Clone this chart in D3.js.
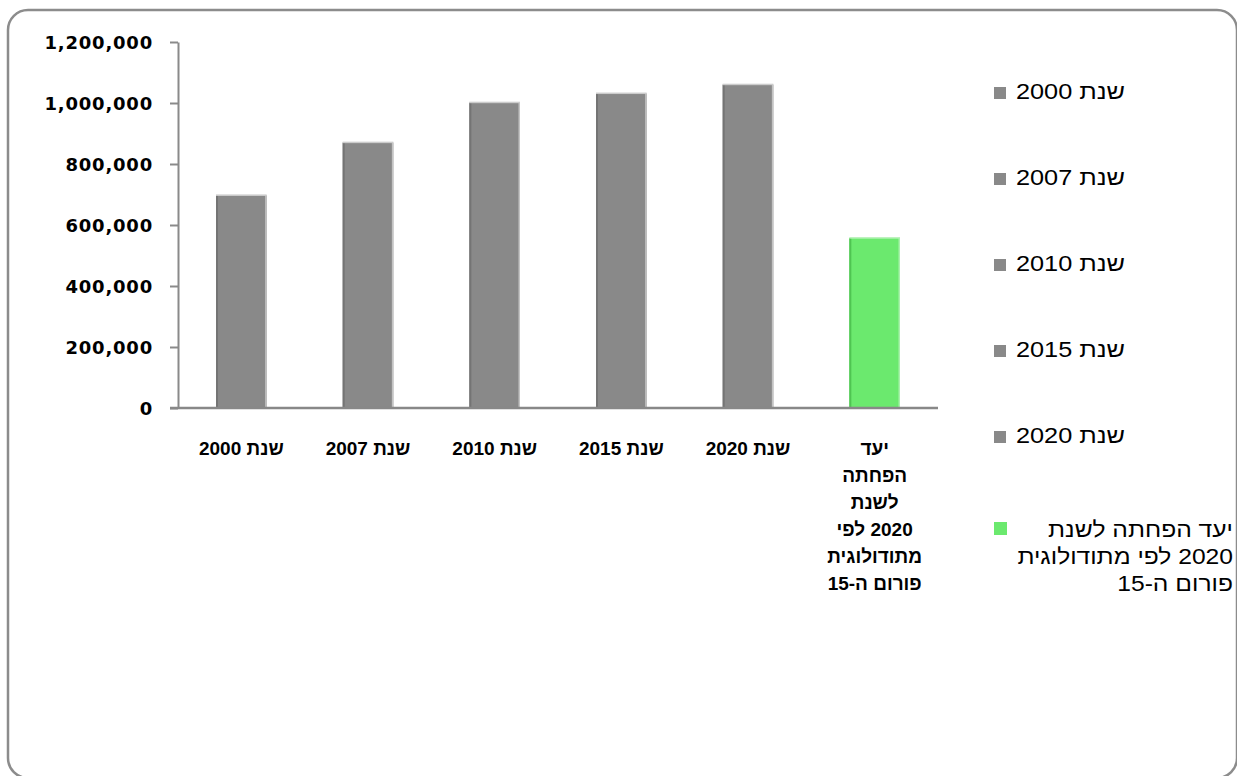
<!DOCTYPE html>
<html>
<head>
<meta charset="utf-8">
<script src="https://cdn.jsdelivr.net/npm/d3@7"></script>
<style>
  html, body { margin: 0; padding: 0; background: #ffffff; }
  svg { display: block; }
</style>
</head>
<body>
<svg id="chart" width="1237" height="776"></svg>
<script>
// ---- data ----
const categories = ["שנת 2000", "שנת 2007", "שנת 2010", "שנת 2015", "שנת 2020", "יעד הפחתה לשנת 2020 לפי מתודולוגית פורום ה-15"];
const values = [697000, 870000, 1001000, 1031000, 1060000, 557000];
const barColors = ["#898989", "#898989", "#898989", "#898989", "#898989", "#6be96e"];
const categoryLabelLines = [
  ["שנת 2000"], ["שנת 2007"], ["שנת 2010"], ["שנת 2015"], ["שנת 2020"],
  ["יעד", "הפחתה", "לשנת", "2020 לפי", "מתודולוגית", "פורום ה-15"]
];
const yTicks = [0, 200000, 400000, 600000, 800000, 1000000, 1200000];
const legendLabels = ["שנת 2000", "שנת 2007", "שנת 2010", "שנת 2015", "שנת 2020"];
const legendLastLines = ["יעד הפחתה לשנת", "2020 לפי מתודולוגית", "פורום ה-15"];

// ---- layout ----
const svg = d3.select("#chart");
const plot = { left: 178, right: 938, top: 42, bottom: 408 };

svg.append("rect")
  .attr("x", 8).attr("y", 10).attr("width", 1229).attr("height", 768)
  .attr("rx", 20).attr("ry", 20)
  .attr("fill", "#ffffff").attr("stroke", "#8c8c8c").attr("stroke-width", 2.5);

const x = d3.scaleBand().domain(categories).range([plot.left, plot.right])
  .paddingInner(0.6).paddingOuter(0.3);
const y = d3.scaleLinear().domain([0, 1200000]).range([plot.bottom, plot.top]);

// bars
const bars = svg.append("g");
categories.forEach((c, i) => {
  const bx = x(c), bw = x.bandwidth(), by = y(values[i]), bh = y(0) - y(values[i]);
  const isGreen = i === 5;
  bars.append("rect").attr("x", bx).attr("y", by).attr("width", bw).attr("height", bh)
    .attr("fill", barColors[i]);
  bars.append("rect").attr("x", bx).attr("y", by).attr("width", 2).attr("height", bh)
    .attr("fill", isGreen ? "#4fc452" : "#747474");
  bars.append("rect").attr("x", bx + bw - 1.5).attr("y", by).attr("width", 1.5).attr("height", bh)
    .attr("fill", isGreen ? "#a9f2ab" : "#c4c4c4");
  bars.append("rect").attr("x", bx).attr("y", by - 1).attr("width", bw).attr("height", 1.5)
    .attr("fill", isGreen ? "#b5f2b6" : "#cccccc");
});

// y axis
const yAxis = d3.axisLeft(y).tickValues(yTicks).tickSize(8).tickSizeOuter(0)
  .tickFormat(d3.format(","));
const gy = svg.append("g").attr("transform", `translate(${plot.left},0)`).call(yAxis);
gy.select(".domain").attr("stroke", "#8a8a8a").attr("stroke-width", 2);
gy.selectAll(".tick line").attr("stroke", "#8a8a8a").attr("stroke-width", 2);
gy.selectAll(".tick text")
  .attr("x", -25).attr("dy", "0.35em")
  .attr("fill", "#000").attr("font-family", "'DejaVu Sans', Verdana, sans-serif")
  .attr("font-weight", "bold").attr("font-size", 18).attr("letter-spacing", 0.8);

// x axis
const xAxis = d3.axisBottom(x).tickSize(0).tickSizeOuter(0).tickFormat("");
const gx = svg.append("g").attr("transform", `translate(0,${plot.bottom})`).call(xAxis);
gx.select(".domain").attr("stroke", "#888888").attr("stroke-width", 2.5)
  .attr("d", `M${plot.left - 8},0H${plot.right}`);
gx.selectAll(".tick").each(function(d, i) {
  const t = d3.select(this).append("text")
    .attr("direction", "rtl").style("direction", "rtl")
    .attr("text-anchor", "middle").attr("fill", "#000")
    .attr("font-family", "'Liberation Sans', Arial, sans-serif")
    .attr("font-weight", "bold").attr("font-size", 19);
  categoryLabelLines[i].forEach((line, j) => {
    t.append("tspan").attr("x", 0).attr("y", 47 + j * 27).text(line);
  });
});

// legend
const lg = svg.append("g").attr("font-family", "'Liberation Sans', Arial, sans-serif")
  .attr("font-size", 22).attr("fill", "#000");
function legendText(xr, yb, s, sx) {
  lg.append("text")
    .attr("transform", `translate(${xr},${yb}) scale(${sx},1)`)
    .attr("direction", "rtl").style("direction", "rtl")
    .attr("text-anchor", "start").text(s);
}
legendLabels.forEach((lab, i) => {
  const base = 99 + i * 86;
  lg.append("rect").attr("x", 994).attr("y", base - 12).attr("width", 12).attr("height", 12)
    .attr("fill", barColors[i]);
  legendText(1125, base, lab, 1.15);
});
lg.append("rect").attr("x", 994).attr("y", 522).attr("width", 13).attr("height", 13)
  .attr("fill", barColors[5]);
legendLastLines.forEach((line, j) => legendText(1233, 537 + j * 27, line, 1.12));
</script>
</body>
</html>
